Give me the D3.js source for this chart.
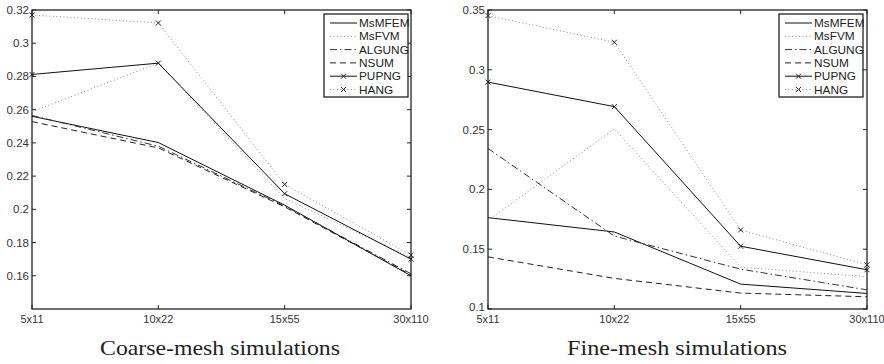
<!DOCTYPE html>
<html>
<head>
<meta charset="utf-8">
<script src="https://cdn.jsdelivr.net/npm/d3@7"></script>
<style>
  body { margin: 0; background: #fff; }
  text { font-family: "Liberation Sans", Arial, sans-serif; }
</style>
</head>
<body>
<svg id="chart" width="884" height="364"></svg>
<script>
const meshes = ['5x11', '10x22', '15x55', '30x110'];
const seriesNames = ['MsMFEM', 'MsFVM', 'ALGUNG', 'NSUM', 'PUPNG', 'HANG'];

// coarse-mesh values
const coarseMsMFEM = [0.256, 0.2402, 0.2025, 0.1600];
const coarseMsFVM = [0.2588, 0.2880, 0.2065, 0.1710];
const coarseALGUNG = [0.2565, 0.2380, 0.2020, 0.1612];
const coarseNSUM = [0.2528, 0.2370, 0.2015, 0.1605];
const coarsePUPNG = [0.2812, 0.2880, 0.2094, 0.1700];
const coarseHANG = [0.3170, 0.3122, 0.2150, 0.1724];
const coarseTicks = [0.16, 0.18, 0.2, 0.22, 0.24, 0.26, 0.28, 0.3, 0.32];

// fine-mesh values
const fineMsMFEM = [0.1764, 0.1644, 0.1208, 0.1130];
const fineMsFVM = [0.1740, 0.2506, 0.1350, 0.1270];
const fineALGUNG = [0.2342, 0.1610, 0.1333, 0.1160];
const fineNSUM = [0.1436, 0.1256, 0.1133, 0.1102];
const finePUPNG = [0.2897, 0.2692, 0.1525, 0.1328];
const fineHANG = [0.3453, 0.3230, 0.1661, 0.1370];
const fineTicks = [0.1, 0.15, 0.2, 0.25, 0.3, 0.35];

const styles = {
  MsMFEM: { dash: null, color: '#111', marker: false },
  MsFVM: { dash: '1,2.5', color: '#888', marker: false },
  ALGUNG: { dash: '7,3,1.5,3', color: '#333', marker: false },
  NSUM: { dash: '6,4', color: '#222', marker: false },
  PUPNG: { dash: null, color: '#111', marker: true },
  HANG: { dash: '1,2.5', color: '#888', marker: true }
};

const svg = d3.select('#chart');

function drawPanel(opts) {
  const x = d3.scalePoint().domain(meshes).range([opts.left, opts.right]);
  const y = d3.scaleLinear().domain(opts.domain).range([opts.bottom, opts.top]);
  const g = svg.append('g');

  // axes box
  g.append('rect')
    .attr('x', opts.left).attr('y', opts.top)
    .attr('width', opts.right - opts.left).attr('height', opts.bottom - opts.top)
    .attr('fill', 'none').attr('stroke', '#222').attr('stroke-width', 1.3);

  // y ticks (inward, both sides) and labels
  opts.ticks.forEach(t => {
    const py = y(t);
    g.append('line').attr('x1', opts.left).attr('x2', opts.left + 4).attr('y1', py).attr('y2', py).attr('stroke', '#222');
    g.append('line').attr('x1', opts.right).attr('x2', opts.right - 4).attr('y1', py).attr('y2', py).attr('stroke', '#222');
    g.append('text').attr('x', opts.left - 3).attr('y', py + (t === opts.domain[0] ? 2 : 4))
      .attr('text-anchor', 'end').attr('font-size', 11.5).attr('fill', '#333')
      .text(d3.format('~g')(t));
  });

  // x ticks and labels
  meshes.forEach(m => {
    const px = x(m);
    g.append('line').attr('x1', px).attr('x2', px).attr('y1', opts.bottom).attr('y2', opts.bottom - 4).attr('stroke', '#222');
    g.append('line').attr('x1', px).attr('x2', px).attr('y1', opts.top).attr('y2', opts.top + 4).attr('stroke', '#222');
    g.append('text').attr('x', px).attr('y', opts.xLabelY)
      .attr('text-anchor', 'middle').attr('font-size', 11).attr('fill', '#333')
      .text(m);
  });

  const line = d3.line().x((d, i) => x(meshes[i])).y(d => y(d));

  seriesNames.forEach((name, k) => {
    const st = styles[name];
    const vals = opts.data[k];
    g.append('path').datum(vals)
      .attr('d', line).attr('fill', 'none')
      .attr('stroke', st.color).attr('stroke-width', 1)
      .attr('stroke-dasharray', st.dash);
    if (st.marker) {
      vals.forEach((v, i) => {
        const px = x(meshes[i]), py = y(v);
        g.append('path')
          .attr('d', `M${px - 2.5},${py - 2.5}L${px + 2.5},${py + 2.5}M${px - 2.5},${py + 2.5}L${px + 2.5},${py - 2.5}`)
          .attr('stroke', '#222').attr('stroke-width', 1);
      });
    }
  });

  // legend
  const lx = opts.legendX, ly = 14, lw = 84, lh = 83;
  g.append('rect').attr('x', lx).attr('y', ly).attr('width', lw).attr('height', lh)
    .attr('fill', '#fff').attr('stroke', '#222').attr('stroke-width', 1.3);
  seriesNames.forEach((name, k) => {
    const st = styles[name];
    const ry = ly + 9 + k * 13.3;
    g.append('line').attr('x1', lx + 6).attr('x2', lx + 33).attr('y1', ry).attr('y2', ry)
      .attr('stroke', st.color).attr('stroke-width', 1).attr('stroke-dasharray', st.dash);
    if (st.marker) {
      const cx = lx + 19.5;
      g.append('path')
        .attr('d', `M${cx - 2.5},${ry - 2.5}L${cx + 2.5},${ry + 2.5}M${cx - 2.5},${ry + 2.5}L${cx + 2.5},${ry - 2.5}`)
        .attr('stroke', '#222');
    }
    g.append('text').attr('x', lx + 35).attr('y', ry + 4)
      .attr('font-size', 11.8).attr('fill', '#222').text(name);
  });

  // caption
  g.append('text').attr('x', opts.captionX).attr('y', 355)
    .attr('text-anchor', 'middle').attr('font-size', 21)
    .attr('textLength', opts.captionWidth).attr('lengthAdjust', 'spacingAndGlyphs')
    .style('font-family', '"Liberation Serif", "DejaVu Serif", serif')
    .attr('fill', '#222').text(opts.caption);
}

drawPanel({
  left: 32, right: 411, top: 10, bottom: 309,
  domain: [0.14, 0.32], ticks: coarseTicks,
  data: [coarseMsMFEM, coarseMsFVM, coarseALGUNG, coarseNSUM, coarsePUPNG, coarseHANG],
  xLabelY: 323, legendX: 324, captionX: 220, captionWidth: 240, caption: 'Coarse-mesh simulations'
});

drawPanel({
  left: 488, right: 867, top: 10, bottom: 309,
  domain: [0.1, 0.35], ticks: fineTicks,
  data: [fineMsMFEM, fineMsFVM, fineALGUNG, fineNSUM, finePUPNG, fineHANG],
  xLabelY: 323, legendX: 779, captionX: 677, captionWidth: 220, caption: 'Fine-mesh simulations'
});
</script>
</body>
</html>
